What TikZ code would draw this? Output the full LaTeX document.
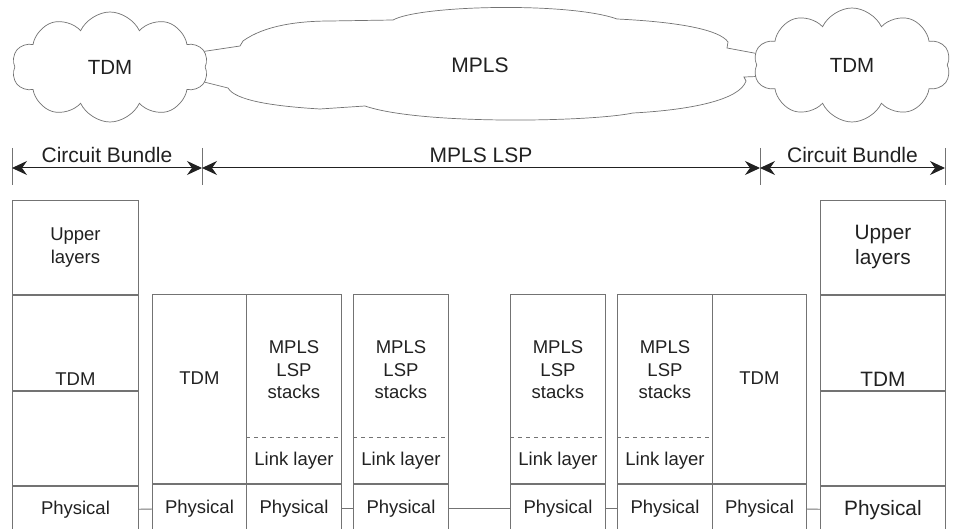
\documentclass[tikz,border=0pt]{standalone}
\usepackage{fontspec}
\setmainfont{Liberation Sans}
\usepackage{xcolor}
\usepackage{tikz}
\usetikzlibrary{positioning,arrows.meta,shapes.symbols}

\definecolor{linegray}{gray}{0.45}
\definecolor{inkgray}{gray}{0.13}

\begin{document}
\begin{tikzpicture}[x=1pt, y=-1pt, line width=0.9pt,
  cell/.style={draw=linegray, rectangle, inner sep=0pt, anchor=north west,
    text=inkgray, align=center, font=\fontsize{18.5}{22.5}\selectfont},
  cellsize/.style 2 args={minimum width=#1, minimum height=#2},
  bigcell/.style={cell, font=\fontsize{20.8}{25}\selectfont},
  lbl/.style={text=inkgray, align=center, inner sep=0pt, font=\fontsize{18.5}{22.5}\selectfont},
  biglbl/.style={lbl, font=\fontsize{20.8}{25}\selectfont},
  head/.style={text=inkgray, inner sep=0pt, font=\fontsize{21}{25}\selectfont},
  net/.style={cloud, cloud puffs=10, cloud puff arc=130, cloud ignores aspect, draw=linegray, fill=white,
    line width=0.7pt, text=inkgray, font=\fontsize{20.5}{24}\selectfont},
  sep/.style={draw=linegray, dash pattern=on 4pt off 4pt},
  wire/.style={draw=linegray},
  tick/.style={draw=linegray, line width=0.7pt},
  span/.style={draw=inkgray, line width=1pt, {Stealth[length=15pt,width=14pt,inset=5pt]}-{Stealth[length=15pt,width=14pt,inset=5pt]}}]

  \useasboundingbox (0,0) rectangle (956,529);

  % networks on top
  \draw[draw=linegray, line width=0.7pt, fill=white]
    (180,55) -- (240,46) -- (243,41) .. controls (265,25) and (300,21) .. (330,21)
    -- (393,20) .. controls (420,5) and (570,2) .. (617,19)
    .. controls (680,22) and (720,30) .. (728,42) -- (727,48) -- (770,56)
    -- (770,76) -- (744,77) -- (746,81) .. controls (740,100) and (690,110) .. (633,113)
    .. controls (590,122) and (420,125) .. (365,106) -- (320,109)
    .. controls (270,106) and (235,100) .. (228,88) -- (180,76) -- cycle;
  \node[head] (mplsT) at (480,65) {MPLS};
  \node[net, minimum width=196pt, minimum height=110pt] (tdmL) at (110,67) {TDM};
  \node[net, minimum width=197pt, minimum height=114pt] (tdmR) at (852,65) {TDM};

  % spans
  \coordinate (b0) at (12,168);
  \coordinate (b1) at (202,168);
  \coordinate (b2) at (760,168);
  \coordinate (b3) at (945,168);
  \foreach \c in {b0,b1,b2,b3}
    \draw[tick] ([yshift=20pt]\c) -- ([yshift=-17pt]\c);
  \draw[span] (b0) -- node[head, above=5pt] (cbL) {Circuit Bundle} (b1);
  \draw[span] (b1) -- node[head, above=5pt] (lspT) {MPLS LSP} (b2);
  \draw[span] (b2) -- node[head, above=5pt] (cbR) {Circuit Bundle} (b3);

  % left end host
  \node[cell, cellsize={126pt}{94pt}] (hostLup) at (12,200) {Upper\\layers};
  \node[cell, cellsize={126pt}{95pt}, below=0pt of hostLup] (hostLtdm) {};
  \node[cell, cellsize={126pt}{94pt}, below=0pt of hostLtdm] (hostLlow) {};
  \node[cell, cellsize={126pt}{48pt}, below=0pt of hostLlow] (hostLphy) {Physical};
  \node[lbl] (hostLtdmT) at ([yshift=-84pt]hostLtdm.north) {TDM};

  % right end host
  \node[bigcell, cellsize={125pt}{94pt}] (hostRup) at (820,200) {Upper\\layers};
  \node[bigcell, cellsize={125pt}{95pt}, below=0pt of hostRup] (hostRtdm) {};
  \node[bigcell, cellsize={125pt}{94pt}, below=0pt of hostRtdm] (hostRlow) {};
  \node[bigcell, cellsize={125pt}{48pt}, below=0pt of hostRlow] (hostRphy) {Physical};
  \node[biglbl] (hostRtdmT) at ([yshift=-84pt]hostRtdm.north) {TDM};

  % tdm columns of the edge routers
  \foreach \x/\n in {152/a,712/b} {
    \node[cell, cellsize={94pt}{189pt}] (tdm\n) at (\x,294) {};
    \node[cell, cellsize={94pt}{48pt}, below=0pt of tdm\n] (tphy\n) {Physical};
    \node[lbl] (tdmT\n) at ([yshift=-84pt]tdm\n.north) {TDM};
  }

  % mpls columns
  \foreach \x/\n in {246/a,353/b,510/c,617/d} {
    \node[cell, cellsize={95pt}{189pt}] (lsp\n) at (\x,294) {};
    \node[cell, cellsize={95pt}{48pt}, below=0pt of lsp\n] (phy\n) {Physical};
    \draw[sep] ([yshift=-143pt]lsp\n.north west) -- ([yshift=-143pt]lsp\n.north east);
    \node[lbl] (lspT\n) at ([yshift=-76pt]lsp\n.north) {MPLS\\LSP\\stacks};
    \node[lbl] (link\n) at ([yshift=-167pt]lsp\n.north) {Link layer};
  }

  % physical links
  \draw[wire] (hostLphy) -- (tphya);
  \draw[wire] (phya) -- (phyb);
  \draw[wire] (phyb) -- (phyc);
  \draw[wire] (phyc) -- (phyd);
  \draw[wire] (tphyb) -- (hostRphy);
\end{tikzpicture}
\end{document}
